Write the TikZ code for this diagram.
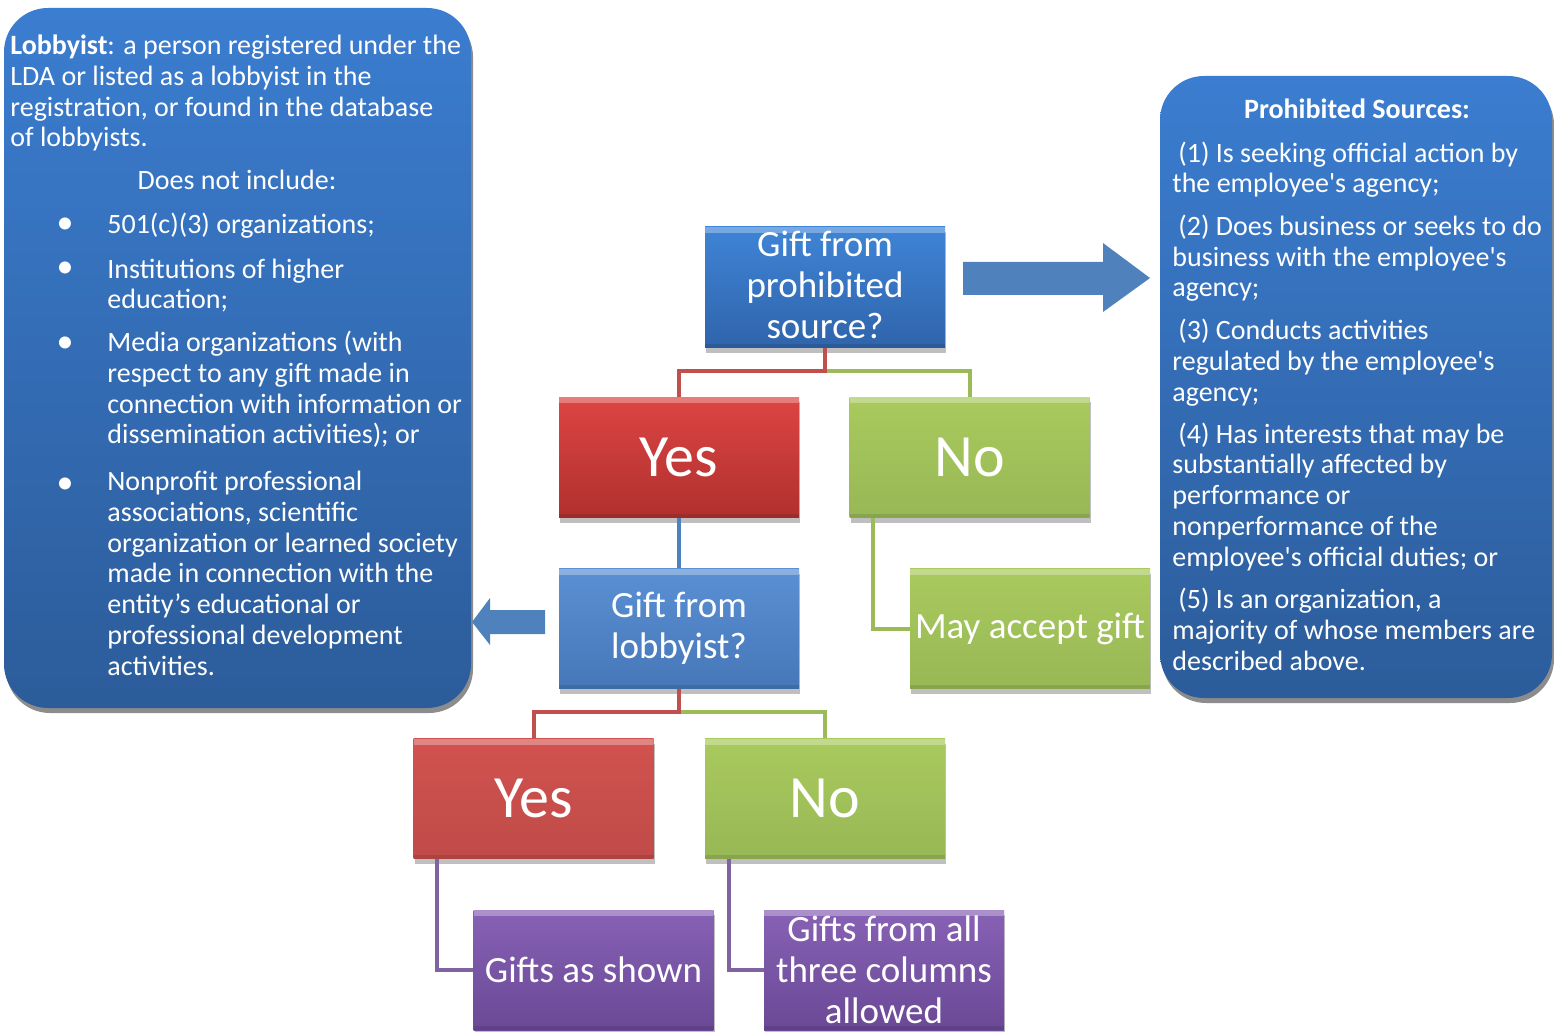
\documentclass[tikz,border=0pt]{standalone}
\usepackage{fontspec}
\setmainfont{Carlito}
\usetikzlibrary{arrows.meta,shadows,positioning}

\definecolor{bigtop}{HTML}{3B7DD0}
\definecolor{bigbot}{HTML}{2C5C9A}
\definecolor{qtop}{HTML}{3F84D6}
\definecolor{qbot}{HTML}{2F64AB}
\definecolor{lobtop}{HTML}{5A90D4}
\definecolor{lobbot}{HTML}{4677B8}
\definecolor{yestop}{HTML}{DC4542}
\definecolor{yesbot}{HTML}{B0302F}
\definecolor{yestwotop}{HTML}{D2524F}
\definecolor{yestwobot}{HTML}{BF4B48}
\definecolor{notop}{HTML}{A9CA5D}
\definecolor{nobot}{HTML}{98B756}
\definecolor{purtop}{HTML}{8761B5}
\definecolor{purbot}{HTML}{6B4996}
\definecolor{arrowblue}{HTML}{4F81BD}
\definecolor{linered}{HTML}{C0504D}
\definecolor{linegreen}{HTML}{9BBB59}
\definecolor{lineblue}{HTML}{4F81BD}
\definecolor{linepurple}{HTML}{8064A2}

\newcommand{\bodyfont}{\fontsize{14pt}{15.35pt}\selectfont}
\newcommand{\boxfont}{\fontsize{18.5pt}{20.5pt}\selectfont}
\newcommand{\ynfont}{\fontsize{30pt}{34pt}\selectfont}

\begin{document}
\begin{tikzpicture}[x=0.5pt, y=-0.5pt,
    infobox/.style={rectangle, rounded corners=22pt, inner sep=0pt, top color=bigtop, bottom color=bigbot,
        drop shadow={shadow xshift=1pt, shadow yshift=-2.5pt, fill=gray, opacity=0.9}},
    flowbox/.style={rectangle, minimum width=120pt, minimum height=60pt, inner sep=0pt, align=center,
        text=white, font=\boxfont, drop shadow={shadow xshift=0.5pt, shadow yshift=-2.5pt, fill=black, opacity=0.25},
        path picture={
            \fill[white, opacity=0.3] (path picture bounding box.north west) rectangle ([yshift=-3pt]path picture bounding box.north east);
            \fill[black, opacity=0.1] (path picture bounding box.south west) rectangle ([yshift=2pt]path picture bounding box.south east);}},
    bodytext/.style={inner sep=0pt, align=left, text=white, font=\bodyfont},
    conn/.style={line width=2pt}]
    \useasboundingbox (0,0) rectangle (1554,1032);

    % side boxes
    \node[infobox, minimum width=233.5pt, minimum height=350pt] (lobbybox) at (237.5,358) {};
    \node[infobox, minimum width=196pt, minimum height=311pt] (srcbox) at (1356,387) {};

    % base of a multi-line node is its last line
    \node[bodytext, anchor=base west] (lobbydef) at (10,147) {\textbf{Lobbyist}: a person registered under the\\LDA or listed as a lobbyist in the\\registration, or found in the database\\of lobbyists.};
    \node[bodytext, anchor=base] (notinc) at (237,190) {Does not include:};
    \foreach \y/\ylast/\itemtext [count=\i] in {234/234/{501(c)(3) organizations;},
        278/309/{Institutions of higher\\education;},
        353/444/{Media organizations (with\\respect to any gift made in\\connection with information or\\dissemination activities); or},
        494/675/{Nonprofit professional\\associations, scientific\\organization or learned society\\made in connection with the\\entity’s educational or\\professional development\\activities.}} {
        \node[bodytext, font=\fontsize{17pt}{17pt}\selectfont, anchor=base] (dot\i) at (65,\y) {•};
        \node[bodytext, anchor=base west] (excl\i) at (107,\ylast) {\itemtext};
    }

    \node[bodytext, font=\bodyfont\bfseries, anchor=base] (srchead) at (1357,119) {Prohibited Sources:};
    \foreach \ylast/\itemtext [count=\i] in {193/{(1) Is seeking official action by\\the employee\textquotesingle s agency;},
        297/{(2) Does business or seeks to do\\business with the employee\textquotesingle s\\agency;},
        401/{(3) Conducts activities\\regulated by the employee\textquotesingle s\\agency;},
        566/{(4) Has interests that may be\\substantially affected by\\performance or\\nonperformance of the\\employee\textquotesingle s official duties; or},
        670/{(5) Is an organization, a\\majority of whose members are\\described above.}} {
        \node[bodytext, anchor=base west] (src\i) at (1172,\ylast) {\hspace*{3pt}\itemtext};
    }

    % block arrows
    \fill[arrowblue] (963,262) -- (1103,262) -- (1103,243) -- (1150,278) -- (1103,312) -- (1103,295) -- (963,295) -- cycle;
    \fill[arrowblue] (545,610) -- (490,610) -- (490,598) -- (472,622) -- (490,645) -- (490,634) -- (545,634) -- cycle;

    % flow chart
    \node[flowbox, top color=qtop, bottom color=qbot, minimum height=60.5pt] (q1) at (825,287.5) {Gift from\\prohibited\\source?\vspace*{3pt}};
    \node[flowbox, top color=yestop, bottom color=yesbot, font=\ynfont] (yes1) at (679,457.5) {Yes};
    \node[flowbox, top color=notop, bottom color=nobot, font=\ynfont] (no1) at (969.5,457.5) {No};
    \node[flowbox, top color=lobtop, bottom color=lobbot] (lobby) at (679,628.5) {Gift from\\lobbyist?};
    \node[flowbox, top color=notop, bottom color=nobot] (may) at (1030,628.5) {May accept gift};
    \node[flowbox, top color=yestwotop, bottom color=yestwobot, font=\ynfont] (yes2) at (533.5,798.5) {Yes};
    \node[flowbox, top color=notop, bottom color=nobot, font=\ynfont] (no2) at (825,798.5) {No};
    \node[flowbox, top color=purtop, bottom color=purbot] (shown) at (593.5,970) {Gifts as shown};
    \node[flowbox, top color=purtop, bottom color=purbot] (allcols) at (884,970) {Gifts from all\\three columns\\allowed};

    \draw[conn, linegreen] ([yshift=-11.5pt]q1.south) -| (no1.north);
    \draw[conn, linered] (q1.south) -- ++(0,23) -| (yes1.north);
    \draw[conn, lineblue] (yes1.south) -- (lobby.north);
    \draw[conn, linegreen] ([xshift=12pt]no1.south west) |- (may.west);
    \draw[conn, linegreen] ([yshift=-11.5pt]lobby.south) -| (no2.north);
    \draw[conn, linered] (lobby.south) -- ++(0,23) -| (yes2.north);
    \draw[conn, linepurple] ([xshift=12pt]yes2.south west) |- (shown.west);
    \draw[conn, linepurple] ([xshift=12pt]no2.south west) |- (allcols.west);
\end{tikzpicture}
\end{document}
